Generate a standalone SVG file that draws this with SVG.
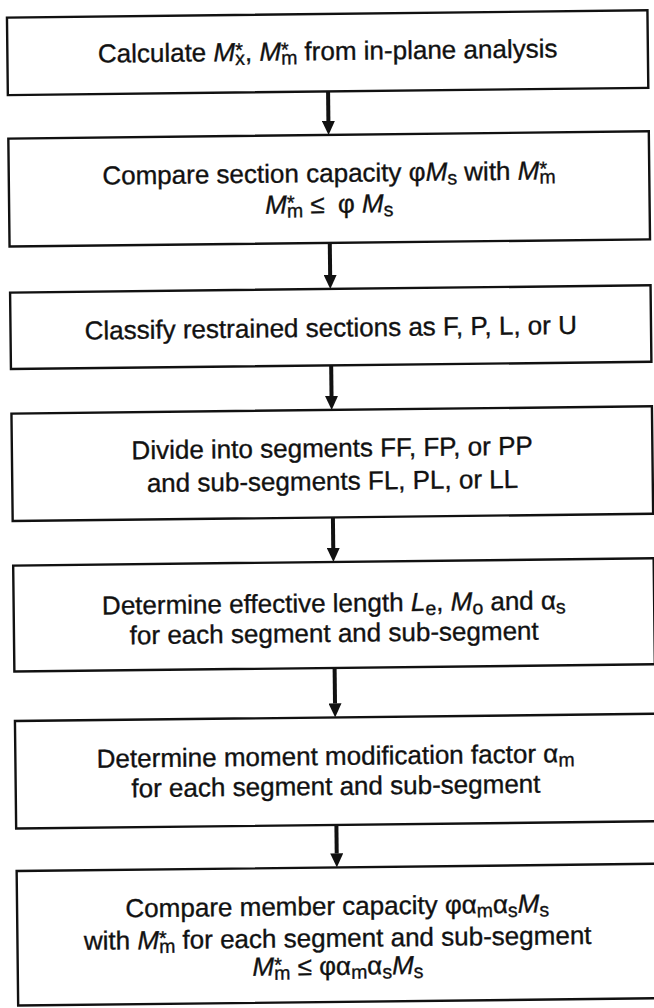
<svg xmlns="http://www.w3.org/2000/svg" width="654" height="1008" viewBox="0 0 654 1008">
<style>
.box{fill:#fff;stroke:#111;stroke-width:2.4}
.t{font-family:"Liberation Sans",Arial,"DejaVu Sans",sans-serif;font-size:26px;text-anchor:middle;fill:#111;stroke:#111;stroke-width:0.35}
.i{font-style:italic}
.sb{font-size:19.5px}
.st{font-size:20px}
.conn{stroke:#111;stroke-width:4;fill:none}
</style>
<defs>
<marker id="ah" viewBox="0 0 14 13" refX="0" refY="6.5" markerWidth="14" markerHeight="13" markerUnits="userSpaceOnUse" orient="auto">
<path d="M0,0 L14,6.5 L0,13 z" fill="#111"/>
</marker>
</defs>
<rect width="654" height="1008" fill="#fff"/>
<g transform="rotate(-0.65 327 504)">
<g id="connectors">
<line class="conn" x1="332.75" y1="91.5" x2="332.75" y2="121" marker-end="url(#ah)"/>
<line class="conn" x1="332.75" y1="243" x2="332.75" y2="275" marker-end="url(#ah)"/>
<line class="conn" x1="332.75" y1="365.5" x2="332.75" y2="396" marker-end="url(#ah)"/>
<line class="conn" x1="332.75" y1="517.5" x2="332.75" y2="548" marker-end="url(#ah)"/>
<line class="conn" x1="332.75" y1="668" x2="332.75" y2="703.5" marker-end="url(#ah)"/>
<line class="conn" x1="332.75" y1="825" x2="332.75" y2="853.5" marker-end="url(#ah)"/>
</g>
<g id="calc">
<rect class="box" x="12.5" y="14" width="640.5" height="77.5"/>
<text class="t" x="332.75" y="60">Calculate <tspan class="i">M</tspan><tspan class="st" dy="-4">*</tspan><tspan class="sb" dx="-7.8" dy="8">x</tspan><tspan dy="-4">, </tspan><tspan class="i">M</tspan><tspan class="st" dy="-4">*</tspan><tspan class="sb" dx="-7.8" dy="8">m</tspan><tspan dy="-4"> from in-plane analysis</tspan></text>
</g>
<g id="section">
<rect class="box" x="12.5" y="135" width="640.5" height="108"/>
<text class="t" x="332.75" y="182">Compare section capacity φ<tspan class="i">M</tspan><tspan class="sb" dy="4">s</tspan><tspan dy="-4"> with </tspan><tspan class="i">M</tspan><tspan class="st" dy="-4">*</tspan><tspan class="sb" dx="-7.8" dy="8">m</tspan></text>
<text class="t" x="332.75" y="213"><tspan class="i">M</tspan><tspan class="st" dy="-4">*</tspan><tspan class="sb" dx="-7.8" dy="8">m</tspan><tspan dy="-4"> ≤ </tspan><tspan dx="6">φ </tspan><tspan class="i">M</tspan><tspan class="sb" dy="4">s</tspan></text>
</g>
<g id="classify">
<rect class="box" x="12.5" y="289" width="640.5" height="76.5"/>
<text class="t" x="332.75" y="336.7">Classify restrained sections as F, P, L, or U</text>
</g>
<g id="divide">
<rect class="box" x="12.5" y="410" width="640.5" height="107.5"/>
<text class="t" x="332.75" y="457">Divide into segments FF, FP, or PP</text>
<text class="t" x="332.75" y="490">and sub-segments FL, PL, or LL</text>
</g>
<g id="efflength">
<rect class="box" x="12.5" y="562" width="640.5" height="106"/>
<text class="t" x="332.75" y="612">Determine effective length <tspan class="i">L</tspan><tspan class="sb" dy="4">e</tspan><tspan dy="-4">, </tspan><tspan class="i">M</tspan><tspan class="sb" dy="4">o</tspan><tspan dy="-4"> and α</tspan><tspan class="sb" dy="4">s</tspan></text>
<text class="t" x="332.75" y="642">for each segment and sub-segment</text>
</g>
<g id="modfactor">
<rect class="box" x="12.5" y="717.5" width="640.5" height="107.5"/>
<text class="t" x="332.75" y="765">Determine moment modification factor α<tspan class="sb" dy="4">m</tspan></text>
<text class="t" x="332.75" y="795">for each segment and sub-segment</text>
</g>
<g id="member">
<rect class="box" x="12.5" y="867.5" width="640.5" height="134.5"/>
<text class="t" x="332.75" y="915">Compare member capacity φα<tspan class="sb" dy="4">m</tspan><tspan dy="-4">α</tspan><tspan class="sb" dy="4">s</tspan><tspan class="i" dy="-4">M</tspan><tspan class="sb" dy="4">s</tspan></text>
<text class="t" x="332.75" y="947">with <tspan class="i">M</tspan><tspan class="st" dy="-4">*</tspan><tspan class="sb" dx="-7.8" dy="8">m</tspan><tspan dy="-4"> for each segment and sub-segment</tspan></text>
<text class="t" x="332.75" y="975"><tspan class="i">M</tspan><tspan class="st" dy="-4">*</tspan><tspan class="sb" dx="-7.8" dy="8">m</tspan><tspan dy="-4"> ≤ φα</tspan><tspan class="sb" dy="4">m</tspan><tspan dy="-4">α</tspan><tspan class="sb" dy="4">s</tspan><tspan class="i" dy="-4">M</tspan><tspan class="sb" dy="4">s</tspan></text>
</g>
</g>
</svg>
